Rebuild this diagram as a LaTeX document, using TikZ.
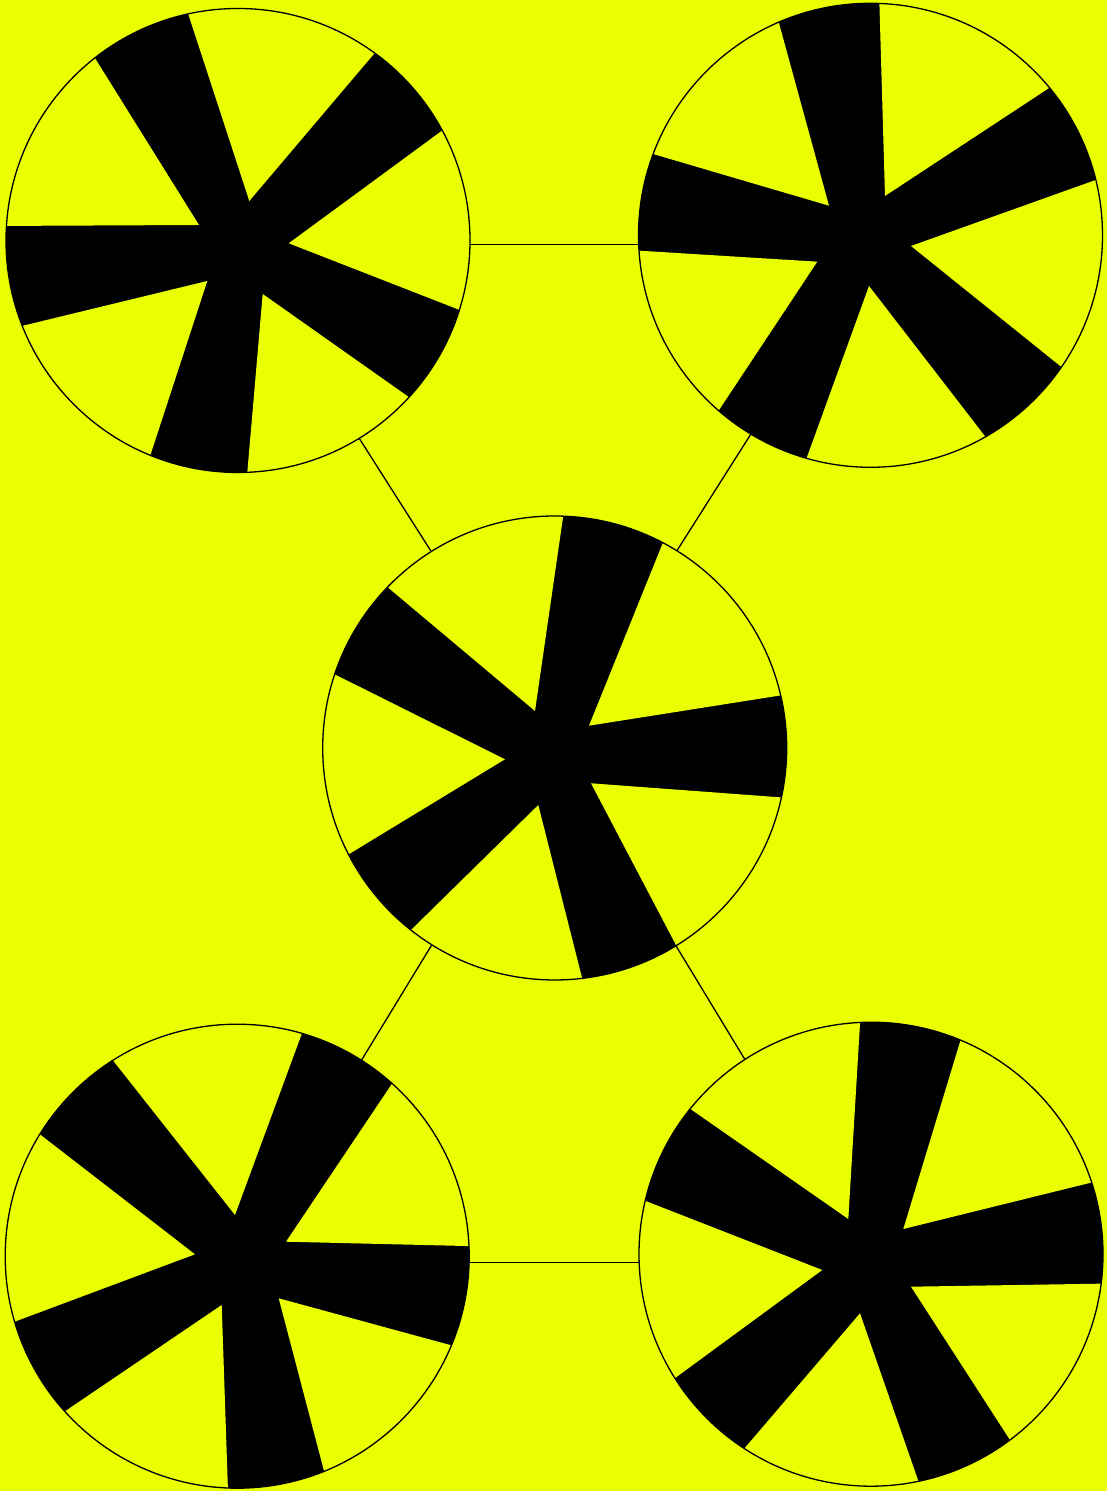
\documentclass[tikz,border=0pt]{standalone}
\usepackage{tikz}
\usetikzlibrary{calc}
\definecolor{pwyellow}{HTML}{EAFF00}
\definecolor{pwink}{HTML}{000000}
\tikzset{
  wheelHub/.style={fill=pwink},
  wheelGap/.style={fill=pwyellow},
  wheelRim/.style={draw=pwink, line width=1.3pt},
  linkLine/.style={draw=pwink, line width=1.3pt}
}
\newcommand{\pinwheel}[2]{%
  \fill[wheelHub] (#1) circle (232);
  \foreach \ax/\ay/\a/\b in {#2}
    \fill[wheelGap] ($(#1)+(\ax,\ay)$) -- ($(#1)+(\a:232)$) arc[start angle=\a, end angle=\b, radius=232] -- cycle;
  \draw[wheelRim] (#1) circle (232);
}

\begin{document}
\begin{tikzpicture}[x=1pt,y=1pt]
  \useasboundingbox (0,0) rectangle (1107,1491);
  \fill[pwyellow] (0,0) rectangle (1107,1491);
  % link ends
  \coordinate (tl) at (236,1246.3);
  \coordinate (tr) at (871,1246.3);
  \coordinate (m) at (554,746.5);
  \coordinate (bl) at (238,228.3);
  \coordinate (br) at (868,228.3);
  \draw[linkLine] (tl) -- (tr);
  \draw[linkLine] (tl) -- (m);
  \draw[linkLine] (tr) -- (m);
  \draw[linkLine] (m) -- (bl);
  \draw[linkLine] (m) -- (br);
  \draw[linkLine] (bl) -- (br);
  % wheel centres
  \coordinate (wheelTL) at (238,1250.5);
  \coordinate (wheelTR) at (870.5,1255.7);
  \coordinate (wheelM) at (554.7,743);
  \coordinate (wheelBL) at (237.2,234.8);
  \coordinate (wheelBR) at (871,236.8);
  \pinwheel{wheelTL}{-39/15.5/128.1/176.4, 11.3/39.5/53.9/102.4, 50.7/-2.8/-17.4/28.3, 24.7/-53.5/-87.7/-42.5, -30.7/-40.5/201.6/247.8}
  \pinwheel{wheelTR}{-41.5/29.6/113.3/159.5, 14.5/39.3/39.5/87.8, 40.5/-10.7/-34.6/13.8, -1.5/-50.7/-106.0/-60.3, -53.2/-26.4/183.8/229.1}
  \pinwheel{wheelM}{-19.7/37/87.9/136.1, 34.3/22.3/13.1/62.2, 36.3/-35.3/-58.4/-12.3, -16.4/-57/231.7/276.8, -49.7/-11.3/161.5/207.3}
  \pinwheel{wheelBL}{-2.2/41.2/73.8/122.4, 48.8/14.5/2.5/48.1, 41.5/-42.1/-68.0/-22.6, -15.5/-48.8/222.0/267.7, -42.2/1.9/148.3/196.4}
  \pinwheel{wheelBR}{-22.7/35.2/92.7/141.2, 32.3/25.2/18.0/67.3, 40/-32.5/-53.2/-7.3, -11/-59.1/236.9/281.8, -48.7/-15.8/166.7/212.3}
\end{tikzpicture}
\end{document}
